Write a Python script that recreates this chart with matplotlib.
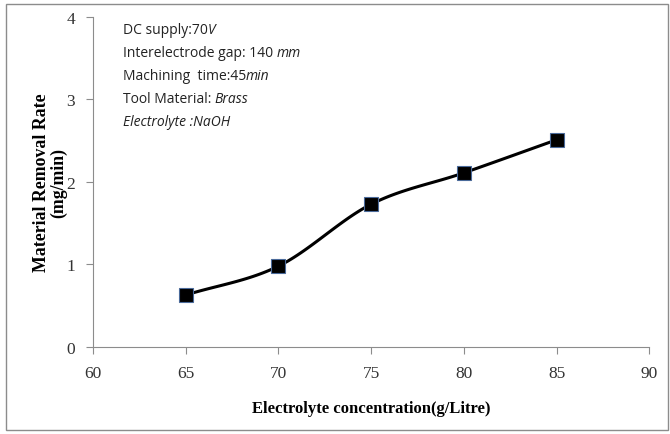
import numpy as np
import matplotlib
matplotlib.use("Agg")
import matplotlib.pyplot as plt
from matplotlib.patches import Rectangle

concentration = [65, 70, 75, 80, 85]
mrr = [0.63, 0.98, 1.73, 2.11, 2.51]

info_lines = [
    [("DC supply:70", "normal"), ("V", "italic")],
    [("Interelectrode gap: 140 ", "normal"), ("mm", "italic")],
    [("Machining  time:45", "normal"), ("min", "italic")],
    [("Tool Material: ", "normal"), ("Brass", "italic")],
    [("Electrolyte :NaOH", "italic")],
]


def catmull_rom(x, y, n=30):
    # smooth curve through the points, like the spreadsheet "smoothed line"
    x = np.asarray(x, float)
    y = np.asarray(y, float)
    px = np.concatenate([[2 * x[0] - x[1]], x, [2 * x[-1] - x[-2]]])
    py = np.concatenate([[2 * y[0] - y[1]], y, [2 * y[-1] - y[-2]]])
    xs, ys = [], []
    t = np.linspace(0, 1, n)
    for i in range(1, len(px) - 2):
        for p, out in ((px, xs), (py, ys)):
            p0, p1, p2, p3 = p[i - 1], p[i], p[i + 1], p[i + 2]
            out.extend(0.5 * (2 * p1 + (-p0 + p2) * t
                              + (2 * p0 - 5 * p1 + 4 * p2 - p3) * t ** 2
                              + (-p0 + 3 * p1 - 3 * p2 + p3) * t ** 3))
    return xs, ys


fig = plt.figure(figsize=(6.7, 4.35), dpi=100)
fig.patches.append(Rectangle((0.009, 0.01), 0.988, 0.978, transform=fig.transFigure,
                             fill=False, edgecolor="#8c8c8c", linewidth=1.0))
ax = fig.add_axes([0.139, 0.2, 0.830, 0.759])

sx, sy = catmull_rom(concentration, mrr)
ax.plot(sx, sy, color="black", linewidth=2.2, zorder=2)
ax.plot(concentration, mrr, linestyle="none", marker="s", markersize=10,
        markerfacecolor="black", markeredgecolor="#4a6a9a", markeredgewidth=0.8, zorder=3)

ax.set_xlim(60, 90)
ax.set_ylim(0, 4)
ax.set_xticks(range(60, 91, 5))
ax.set_yticks(range(0, 5))
for s in ("top", "right"):
    ax.spines[s].set_visible(False)
for s in ("left", "bottom"):
    ax.spines[s].set_color("#8c8c8c")
ax.tick_params(direction="out", length=5, color="#8c8c8c", labelsize=12.5, pad=8)
for lab in ax.get_xticklabels() + ax.get_yticklabels():
    lab.set_fontfamily("Liberation Serif")
    lab.set_color("#333333")

ax.set_xlabel("Electrolyte concentration(g/Litre)", fontfamily="Liberation Serif",
              fontweight="bold", fontsize=12, labelpad=14)
ax.set_ylabel("Material Removal Rate\n(mg/min)", fontfamily="Liberation Serif",
              fontweight="bold", fontsize=12.8, labelpad=-1, linespacing=1.05)

fig.canvas.draw()
renderer = fig.canvas.get_renderer()
y0 = 0.930
for row in info_lines:
    x = 0.183
    for txt, style in row:
        t = fig.text(x, y0, txt, fontfamily="Open Sans", fontstyle=style,
                     fontsize=10, color="#222222", va="center")
        bb = t.get_window_extent(renderer)
        x += bb.width / fig.bbox.width
    y0 -= 0.053

fig.savefig("out.png", dpi=100)
